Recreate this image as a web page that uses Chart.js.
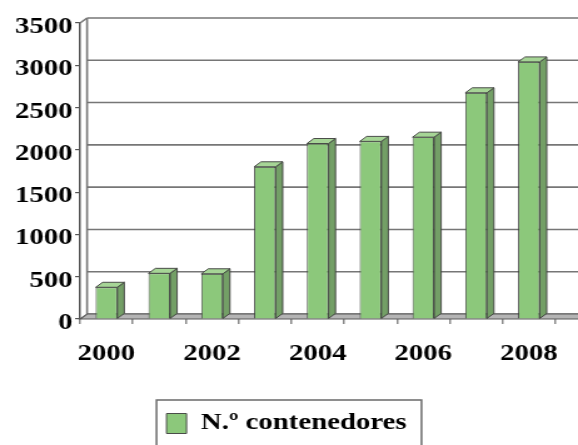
<!DOCTYPE html>
<html><head><meta charset="utf-8">
<script src="https://cdn.jsdelivr.net/npm/chart.js@4.4.0/dist/chart.umd.min.js"></script>
<style>
html,body{margin:0;padding:0;background:#fff;overflow:hidden;width:578px;height:445px}
#wrap{width:462px;height:445px;transform:scaleX(1.2510823);transform-origin:0 0}
canvas{display:block}
</style></head><body>
<div id="wrap"><canvas id="c" width="462" height="445"></canvas></div>
<script>
const years = ['2000','2001','2002','2003','2004','2005','2006','2007','2008'];
const contenedores = [375, 540, 535, 1800, 2075, 2100, 2150, 2675, 3040];
const yTicks = [0, 500, 1000, 1500, 2000, 2500, 3000, 3500];
const seriesName = 'N.º contenedores';

const DX = 5.6, DY = 5;
const FONT = {family: "'Liberation Serif', 'Times New Roman', serif", weight: 'bold', size: 23};

function poly(ctx, pts, fill, stroke, lw) {
  ctx.beginPath();
  ctx.moveTo(pts[0][0], pts[0][1]);
  for (let i = 1; i < pts.length; i++) ctx.lineTo(pts[i][0], pts[i][1]);
  ctx.closePath();
  if (fill) { ctx.fillStyle = fill; ctx.fill(); }
  if (stroke) { ctx.strokeStyle = stroke; ctx.lineWidth = lw || 1; ctx.stroke(); }
}

const fake3d = {
  id: 'fake3d',
  beforeDatasetsDraw(chart) {
    const {ctx, chartArea: a} = chart;
    const y = chart.scales.y;
    const b = y.getPixelForValue(0);
    const t = y.getPixelForValue(yTicks[yTicks.length - 1]);
    ctx.save();
    ctx.strokeStyle = '#767676';
    ctx.lineWidth = 1.6;
    yTicks.forEach(v => {
      const py = y.getPixelForValue(v) - DY;
      ctx.beginPath(); ctx.moveTo(a.left + DX, py); ctx.lineTo(chart.width, py); ctx.stroke();
    });
    ctx.beginPath(); ctx.moveTo(a.left + DX, b - DY); ctx.lineTo(a.left + DX, t - DY); ctx.stroke();
    ctx.beginPath(); ctx.moveTo(a.left, t); ctx.lineTo(a.left + DX, t - DY); ctx.stroke();
    poly(ctx, [[a.left, b], [chart.width + 2, b], [chart.width + 2, b - DY], [a.left + DX, b - DY]], '#b4b4b4', '#5a5a5a', 1.2);
    ctx.restore();
  },
  afterDatasetsDraw(chart) {
    const ctx = chart.ctx;
    ctx.save();
    chart.getDatasetMeta(0).data.forEach(bar => {
      const p = bar.getProps(['x', 'y', 'base', 'width'], true);
      const l = p.x - p.width / 2, r = p.x + p.width / 2;
      poly(ctx, [[r, p.y], [r + DX, p.y - DY], [r + DX, p.base - DY], [r, p.base]], '#739f66', '#3c3c3c', 0.9);
      poly(ctx, [[l, p.y], [l + DX, p.y - DY], [r + DX, p.y - DY], [r, p.y]], '#a6d596', '#3c3c3c', 0.9);
    });
    ctx.restore();
  },
  afterDraw(chart) {
    const lg = chart.legend;
    if (!lg || !lg.legendHitBoxes || !lg.legendHitBoxes.length) return;
    const h = lg.legendHitBoxes[0];
    const ctx = chart.ctx;
    ctx.save();
    ctx.strokeStyle = '#6a6a6a';
    ctx.lineWidth = 1.5;
    ctx.strokeRect(h.left - 8, 400, h.width + 20, 60);
    ctx.restore();
  }
};

new Chart(document.getElementById('c'), {
  type: 'bar',
  data: {
    labels: years,
    datasets: [{
      label: seriesName,
      data: contenedores,
      backgroundColor: '#8cc87b',
      borderColor: '#3c3c3c',
      borderWidth: 0.9,
      barPercentage: 0.41,
      categoryPercentage: 1.0
    }]
  },
  options: {
    responsive: false,
    animation: false,
    devicePixelRatio: 1,
    layout: {padding: {left: 0, right: 4, top: 23, bottom: 0}},
    plugins: {
      tooltip: {enabled: false},
      legend: {
        display: true,
        position: 'bottom',
        labels: {
          font: FONT,
          color: '#000',
          boxWidth: 16,
          boxHeight: 20,
          padding: 10
        }
      }
    },
    scales: {
      x: {
        afterFit(axis) { axis.height = 83; },
        grid: {offset: true, drawOnChartArea: false, tickLength: 5, color: '#8a8a8a', lineWidth: 1.5},
        border: {display: false},
        ticks: {
          autoSkip: false, maxRotation: 0, minRotation: 0, padding: 16,
          font: FONT, color: '#000',
          callback: (v, i) => (i % 2 === 0 ? years[i] : '')
        }
      },
      y: {
        min: 0, max: 3500,
        afterFit(axis) { axis.width = 64; },
        afterBuildTicks(axis) { axis.ticks = yTicks.map(v => ({value: v})); },
        grid: {drawOnChartArea: false, tickLength: 4, color: '#555', lineWidth: 1.2},
        border: {display: true, color: '#555', width: 1.5},
        ticks: {padding: 2, labelOffset: 4, font: FONT, color: '#000', callback: v => String(v)}
      }
    }
  },
  plugins: [fake3d]
});
</script>
</body></html>
